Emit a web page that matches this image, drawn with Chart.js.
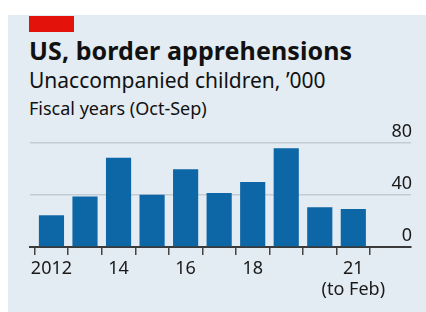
<!DOCTYPE html>
<html lang="en">
<head>
<meta charset="UTF-8">
<title>US, border apprehensions</title>
<style>
  body{margin:0;background:#fff;width:426px;height:312px;overflow:hidden;position:relative;font-family:"Noto Sans",sans-serif;color:#111}
  .panel{position:absolute;left:8px;top:15px;right:0;bottom:0;background:#e3ebf3}
  .tag{position:absolute;left:29px;top:16px;width:45px;height:16px;background:#e3120b}
  .t{position:absolute;left:29px;line-height:1;white-space:nowrap}
  #title{top:38px;font-size:25px;font-weight:700;letter-spacing:0.1px}
  #sub{top:70px;font-size:21px}
  #note{top:99px;font-size:18px}
  #wrap{position:absolute;left:0;top:0;width:426px;height:312px}
</style>
</head>
<body>
<div class="panel"></div>
<div class="tag"></div>
<div class="t" id="title">US, border apprehensions</div>
<div class="t" id="sub">Unaccompanied children, ’000</div>
<div class="t" id="note">Fiscal years (Oct-Sep)</div>
<div id="wrap"><canvas id="c" width="426" height="312"></canvas></div>
<script src="https://cdn.jsdelivr.net/npm/chart.js"></script>
<script>
// fiscal years, unaccompanied children apprehended ('000)
const years = [2012, 2013, 2014, 2015, 2016, 2017, 2018, 2019, 2020, 2021]
const children = [24.4, 38.8, 68.6, 40.2, 59.9, 41.6, 50.0, 76.0, 30.6, 29.2]
const yearLabels = ['2012', '', '14', '', '16', '', '18', '', '', ['21', '(to Feb)']]
const yTicks = [0, 40, 80]

const barBlue = '#0d66a5'

new Chart(document.getElementById('c'), {
  type: 'bar',
  data: {
    datasets: [{
      data: years.map((y, i) => ({x: y, y: children[i]})),
      backgroundColor: barBlue,
      barPercentage: 0.75,
      categoryPercentage: 1
    }]
  },
  options: {
    responsive: false,
    animation: false,
    layout: {padding: {left: 30, right: 13, top: 143, bottom: 0}},
    plugins: {legend: {display: false}, tooltip: {enabled: false}},
    scales: {
      x: {
        type: 'linear',
        offset: false,
        min: 2011.36,
        max: 2022.72,
        afterBuildTicks: s => { s.ticks = years.map(v => ({value: v})) },
        afterFit: s => { s.height = 65 },
        grid: {drawOnChartArea: false, drawTicks: true, tickLength: 8, color: '#444', lineWidth: 1.5},
        border: {display: true, color: '#3a3a3a', width: 2},
        ticks: {
          autoSkip: false, maxRotation: 0, padding: 4, color: '#1a1a1a',
          font: {family: 'Noto Sans', size: 18, lineHeight: 1.15},
          callback: v => yearLabels[years.indexOf(v)]
        }
      },
      y: {
        position: 'right',
        min: 0, max: 80,
        afterBuildTicks: s => { s.ticks = yTicks.map(v => ({value: v})) },
        grid: {drawTicks: false, color: c => c.tick.value === 0 ? 'rgba(0,0,0,0)' : '#c3cbd3', lineWidth: 1.5},
        border: {display: false},
        ticks: {
          mirror: true, padding: 1, labelOffset: -11, color: '#1a1a1a',
          font: {family: 'Noto Sans', size: 18}
        }
      }
    }
  }
})
</script>
</body>
</html>
